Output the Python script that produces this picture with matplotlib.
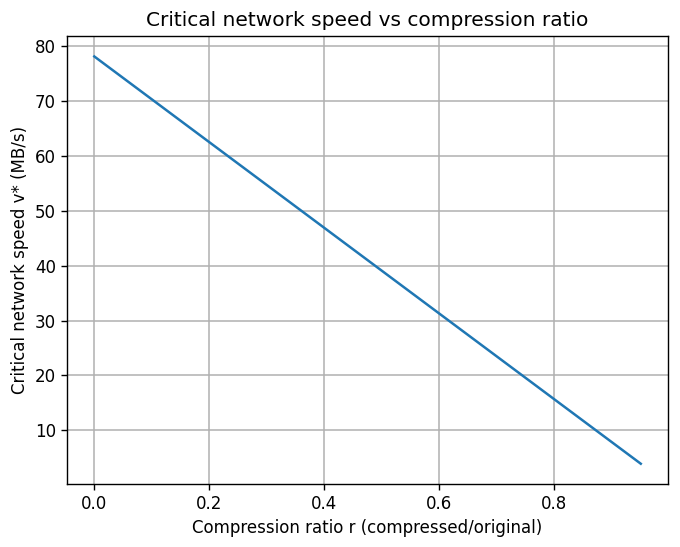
import matplotlib
matplotlib.use("Agg")
import matplotlib.pyplot as plt

ratio = [0.0, 0.2, 0.4, 0.6, 0.8, 0.95]
speed = [78.125, 62.5, 46.875, 31.25, 15.625, 3.906]

fig = plt.figure(figsize=(6.8, 5.47), dpi=100)
ax = fig.add_axes([0.0985, 0.115, 0.884, 0.819])
ax.plot(ratio, speed, color="#1f77b4", linewidth=1.8)
ax.set_title("Critical network speed vs compression ratio", fontsize=14.5, pad=7)
ax.set_xlabel("Compression ratio r (compressed/original)", fontsize=12)
ax.set_ylabel("Critical network speed v* (MB/s)", fontsize=12)
ax.tick_params(labelsize=12, width=1.0, length=4.5)
for s in ax.spines.values():
    s.set_linewidth(1.0)
ax.grid(True, color="#b0b0b0", linewidth=1.1)
fig.savefig("out.png", dpi=100)
